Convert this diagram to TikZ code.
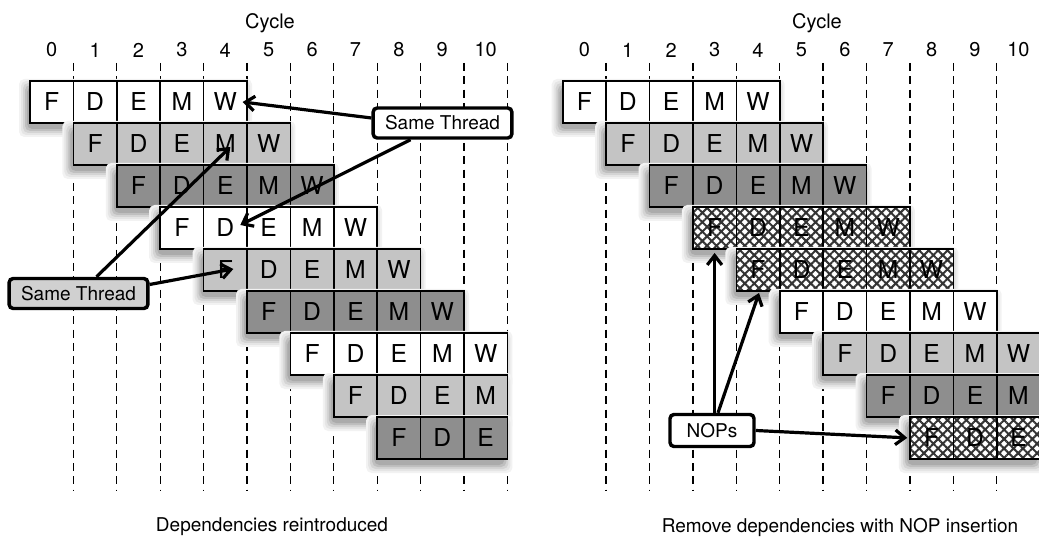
\documentclass[tikz,border=0pt]{standalone}
\usepackage{fontspec}
\setmainfont{TeX Gyre Heros}
\usetikzlibrary{arrows.meta,calc,patterns.meta}

\definecolor{lightcell}{HTML}{C4C4C4}
\definecolor{darkcell}{HTML}{8E8E8E}
\definecolor{labelgray}{HTML}{D0D0D0}

\tikzset{
  cell/.style={draw, line width=1.2pt, minimum width=32.55pt, minimum height=31.5pt,
    inner sep=0pt, outer sep=0pt, font=\fontsize{18.5}{20}\selectfont},
  wht/.style={fill=white},
  lgt/.style={fill=lightcell},
  drk/.style={fill=darkcell},
  nop/.style={preaction={fill=white}, pattern={Hatch[angle=45,distance=5pt,line width=1.5pt]},
    pattern color=black!80},
  cyc/.style={line width=1pt, dash pattern=on 6pt off 4pt},
  num/.style={font=\fontsize{15}{17}\selectfont},
  lbl/.style={draw, line width=2.6pt, rounded corners=3pt, minimum height=22.5pt,
    inner sep=0pt, font=\fontsize{14.25}{16}\selectfont},
  arr/.style={line width=2.4pt, -{Straight Barb[length=7pt,width=11pt,line width=2.4pt]}}
}

\begin{document}
\begin{tikzpicture}[x=.75pt, y=-.75pt]
\useasboundingbox (0,0) rectangle (1039,538);
\clip (0,0) rectangle (1039,538);

% cycle grid
\foreach \p/\dx in {l/0,r/532.7} {
  \foreach \k in {1,...,11} {
    \draw[cyc] ({\dx+30+43.4*\k},63) -- ({\dx+30+43.4*\k},490);
  }
  \foreach \k in {0,...,10} {
    \node[num] (\p-n\k) at ({\dx+51.7+43.4*\k},50) {\k};
  }
}
\node[num] (l-cycle) at (270,23) {Cycle};
\node[num] (r-cycle) at (817,23) {Cycle};

% left pipeline, each row with its own soft shadow
\foreach \r/\st/\nn/\fl in {1/0/5/wht,2/1/5/lgt,3/2/5/drk,4/3/5/wht,5/4/5/lgt,6/5/5/drk,7/6/5/wht,8/7/4/lgt,9/8/3/drk} {
  \foreach \bw/\sh in {8/5,6/10,4/17,2/25,0/33} {
    \fill[black!\sh, rounded corners=4pt] ({27+43.4*\st-\bw},{87+42*(\r-1)-\bw}) rectangle ({27+43.4*(\st+\nn)+\bw},{129+42*(\r-1)+\bw});
  }
  \foreach \lt [count=\k from 0] in {F,D,E,M,W} {
    \ifnum\k<\nn \node[cell,\fl] (l-\r-\k) at ({51.7+43.4*(\st+\k)},{102+42*(\r-1)}) {\lt}; \fi
  }
}

% right pipeline
\foreach \r/\st/\nn/\fl in {1/0/5/wht,2/1/5/lgt,3/2/5/drk,4/3/5/nop,5/4/5/nop,6/5/5/wht,7/6/5/lgt,8/7/4/drk,9/8/3/nop} {
  \foreach \bw/\sh in {8/5,6/10,4/17,2/25,0/33} {
    \fill[black!\sh, rounded corners=4pt] ({559.7+43.4*\st-\bw},{87+42*(\r-1)-\bw}) rectangle ({559.7+43.4*(\st+\nn)+\bw},{129+42*(\r-1)+\bw});
  }
  \foreach \lt [count=\k from 0] in {F,D,E,M,W} {
    \ifnum\k<\nn \node[cell,\fl] (r-\r-\k) at ({584.4+43.4*(\st+\k)},{102+42*(\r-1)}) {\lt}; \fi
  }
}

% labels
\node[lbl, fill=white, minimum width=104pt] (st1) at (442.5,123) {Same Thread};
\node[lbl, fill=labelgray, minimum width=104pt] (st2) at (78.5,293.5) {Same Thread};
\node[lbl, fill=white, minimum width=63pt, minimum height=24pt] (nop) at (712,430.5) {NOPs};

\draw[arr] ($(st1.west)+(0,-5)$) -- ($(l-1-4.center)!.8!(l-1-4.east)$);
\draw[arr] ($(st1.south)+(-32,0)$) -- ($(l-4-1.center)+(15,-3)$);
\draw[arr] ($(st2.north)+(18,0)$) -- ($(l-2-3.center)+(5,3)$);
\draw[arr] ($(st2.east)+(0,-9)$) -- ($(l-5-0.center)+(8,-1)$);

\draw[arr, shorten >=3pt] (nop.north -| r-4-0.south) -- (r-4-0.south);
\draw[arr] ($(nop.north)+(6,0)$) -- ($(r-5-0.south)+(1,2)$);
\draw[arr, shorten >=2pt] (nop.east) -- (r-9-0.west);

% captions
\node[num, font=\fontsize{14.25}{16}\selectfont] (l-cap) at (272,527) {Dependencies reintroduced};
\node[num, font=\fontsize{14.25}{16}\selectfont] (r-cap) at (840,527) {Remove dependencies with NOP insertion};
\end{tikzpicture}
\end{document}
